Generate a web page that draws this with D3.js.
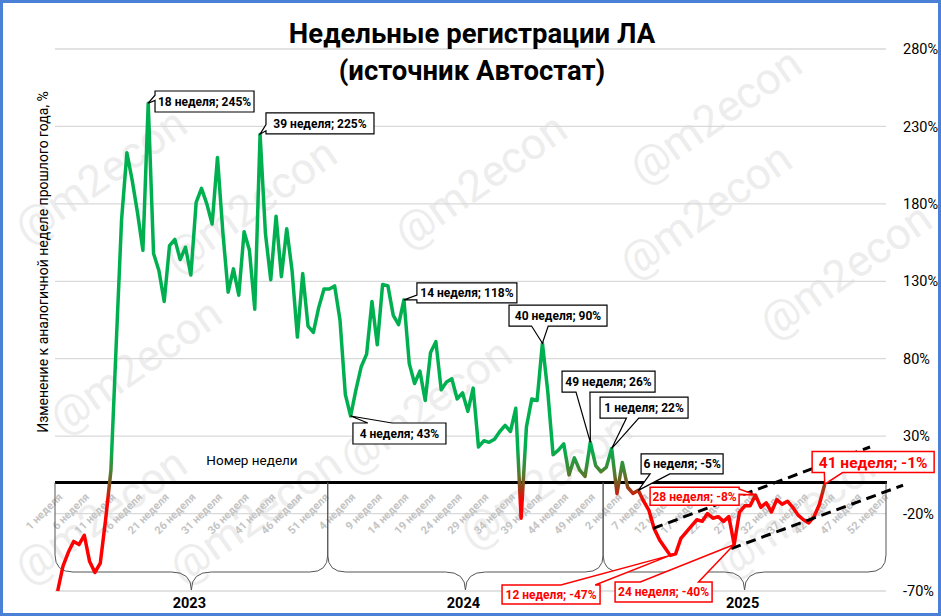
<!DOCTYPE html>
<html>
<head>
<meta charset="utf-8">
<script src="https://cdn.jsdelivr.net/npm/d3@7"></script>
<style>
  body { margin: 0; background: #fff; }
  svg { display: block; font-family: Roboto, "Noto Sans", sans-serif; }
</style>
</head>
<body>
<div id="viz"></div>
<script>
const width = 941
const height = 616
const plotLeft = 55, plotRight = 886
const plotTop = 49, plotBottom = 591

// data
const years = ["2023", "2024", "2025"]
const weeksPerYear = 52
const yTicks = [-70, -20, 30, 80, 130, 180, 230, 280]
const tickEvery = 5

const values2023 = [-70, -54, -45, -38, -40, -34, -51, -58, -52, -24,
  8, 90, 170, 213, 195, 174, 150, 245, 148, 137,
  117, 153, 157, 144, 152, 134, 181, 190, 180, 167,
  210, 162, 123, 138, 121, 162, 150, 112, 225, 161,
  131, 172, 133, 164, 137, 94, 135, 101, 97, 113,
  125, 125]
const values2024 = [127, 105, 57, 43, 60, 75, 83, 117, 89, 128,
  127, 108, 102, 118, 77, 64, 72, 53, 84, 91,
  60, 65, 67, 54, 58, 46, 61, 23, 27, 26,
  28, 33, 37, 33, 48, -23, 36, 54, 53, 90,
  59, 18, 21, 25, 5, 16, 8, 4, 26, 11,
  7, 10]
const values2025 = [22, -7, 13, -3, -7, -5, -12, -18, -30, -37,
  -42, -47, -46, -36, -32, -28, -24, -25, -20, -23,
  -22, -25, -22, -40, -19, -15, -15, -8, -16, -13,
  -19, -11, -14, -12, -16, -21, -24, -26, -22, -14,
  -1]

const callouts = [
  {year: "2023", week: 18, label: "18 неделя; 245%"},
  {year: "2023", week: 39, label: "39 неделя; 225%"},
  {year: "2024", week: 4, label: "4 неделя; 43%"},
  {year: "2024", week: 14, label: "14 неделя; 118%"},
  {year: "2024", week: 40, label: "40 неделя; 90%"},
  {year: "2024", week: 49, label: "49 неделя; 26%"},
  {year: "2025", week: 1, label: "1 неделя; 22%"},
  {year: "2025", week: 6, label: "6 неделя; -5%"},
  {year: "2025", week: 12, label: "12 неделя; -47%"},
  {year: "2025", week: 24, label: "24 неделя; -40%"},
  {year: "2025", week: 28, label: "28 неделя; -8%"},
  {year: "2025", week: 41, label: "41 неделя; -1%"}
]

// trend channel, in (week index, %) units
const trendUpper = [[111.8, -29.6], [152.5, 23]]
const trendLower = [[118, -53.3], [158.7, -1.7]]

// layout of the callout boxes (offset of box from its point)
const calloutLayout = [
  {dx: 6.8, dy: -12.2, w: 99, h: 21, edge: "left", f: [0.2, 0.45]},
  {dx: 5.9, dy: -21.2, w: 108, h: 21, edge: "left", f: [0.55, 0.85]},
  {dx: 2.3, dy: 7, w: 93, h: 21, edge: "top", f: [0.16, 0.42]},
  {dx: 13, dy: -16.9, w: 100, h: 20, edge: "left", f: [0.6, 0.85]},
  {dx: -33.4, dy: -38.2, w: 98, h: 21, edge: "bottom", f: [0.23, 0.4]},
  {dx: -28.3, dy: -71.3, w: 93, h: 21, edge: "bottom", f: [0.15, 0.3]},
  {dx: -11.6, dy: -51.5, w: 88, h: 21, edge: "bottom", f: [0.3, 0.44]},
  {dx: 2.8, dy: -36.4, w: 82, h: 20, edge: "bottom", f: [0.11, 0.35]},
  {dx: -168.2, dy: 29.6, w: 98, h: 19, edge: "top", f: [0.6, 0.95], red: true},
  {dx: -119.1, dy: 37.4, w: 97, h: 20, edge: "top", f: [0.26, 0.86], red: true},
  {dx: -105.4, dy: -7.8, w: 89, h: 18, edge: "right", f: [0.1, 0.4], red: true},
  {dx: -12.6, dy: -32.6, w: 122, h: 21, edge: "bottom", f: [0.1, 0.25], red: true, size: 15.5}
]

const watermarkSpots = [[100, 175], [250, 205], [480, 180], [715, 115], [705, 210], [845, 270],
  [135, 365], [425, 405], [545, 480], [255, 515], [800, 510], [100, 515]]

const series = []
;[values2023, values2024, values2025].forEach((vals, yi) => {
  for (let w = 0; w < weeksPerYear; w++) {
    series.push({i: yi * weeksPerYear + w, week: w + 1, v: w < vals.length ? vals[w] : null})
  }
})

const svg = d3.select("#viz").append("svg")
  .attr("width", width)
  .attr("height", height)

svg.append("rect").attr("width", width).attr("height", height).attr("fill", "#fff")

const x = d3.scaleLinear().domain([-0.5, series.length - 0.5]).range([plotLeft, plotRight])
const y = d3.scaleLinear().domain([-70, 280]).range([plotBottom, plotTop])

// watermark
svg.append("g").selectAll("text")
  .data(watermarkSpots)
  .enter().append("text")
  .attr("transform", d => "translate(" + d[0] + "," + d[1] + ") rotate(-35)")
  .attr("text-anchor", "middle")
  .attr("dy", "0.35em")
  .style("font-size", "44px")
  .style("fill", "#ededed")
  .text("@m2econ")

// gridlines
svg.append("g").selectAll("line")
  .data(yTicks)
  .enter().append("line")
  .attr("x1", plotLeft).attr("x2", plotRight)
  .attr("y1", d => y(d)).attr("y2", d => y(d))
  .attr("stroke", "#d9d9d9")
  .attr("stroke-width", 1.3)

// right axis labels
const yAxisG = svg.append("g")
  .attr("transform", "translate(" + plotRight + ",0)")
  .call(d3.axisRight(y).tickValues(yTicks).tickFormat(d => d + "%").tickSize(0).tickPadding(17))
yAxisG.select(".domain").remove()
yAxisG.selectAll("text").style("font-size", "14.5px").style("fill", "#000").style("font-family", "Roboto, sans-serif")

// x axis at zero
const xAxisG = svg.append("g")
  .attr("transform", "translate(0," + y(0) + ")")
  .call(d3.axisBottom(x)
    .tickValues(d3.range(0, series.length, tickEvery))
    .tickFormat(i => series[i].week + " неделя")
    .tickSize(0)
    .tickSizeOuter(0))
xAxisG.select(".domain").attr("stroke", "#000").attr("stroke-width", 3)
  .attr("d", "M" + plotLeft + ",0H" + (plotRight + 1))
xAxisG.selectAll("text")
  .attr("y", 0).attr("dy", 0)
  .attr("transform", "translate(5,15) rotate(-45)")
  .style("text-anchor", "end")
  .style("font-size", "11px")
  .style("font-weight", "bold")
  .style("fill", "#c4c4c4")
  .style("font-family", "Roboto, sans-serif")

// year braces
const braceTop = y(0), braceMid = 555, braceBar = 572, bracePoint = 590
const yearEdges = [-0.5, 50.7, 102.4, series.length - 0.5]
const braceG = svg.append("g")
years.forEach((yr, k) => {
  const a = x(yearEdges[k]), b = x(yearEdges[k + 1]), c = (a + b) / 2
  const p = d3.path()
  p.moveTo(a, braceTop)
  p.lineTo(a, braceMid)
  p.quadraticCurveTo(a, braceBar, a + 18, braceBar)
  p.lineTo(c - 20, braceBar)
  p.quadraticCurveTo(c, braceBar, c, bracePoint)
  p.quadraticCurveTo(c, braceBar, c + 20, braceBar)
  p.lineTo(b - 18, braceBar)
  p.quadraticCurveTo(b, braceBar, b, braceMid)
  p.lineTo(b, braceTop)
  braceG.append("path").attr("d", p.toString())
    .attr("fill", "none").attr("stroke", "#555").attr("stroke-width", 1)
  svg.append("text")
    .attr("x", c - 2).attr("y", 608)
    .attr("text-anchor", "middle")
    .style("font-size", "14.5px").style("font-weight", "bold")
    .text(yr)
})

// line with colour gradient by value
const gradStops = [{v: 22, c: "#00b050"}, {v: 6, c: "#4f7f2e"}, {v: -2, c: "#8a4a1c"}, {v: -12, c: "#ff0000"}]
const gy1 = y(gradStops[0].v), gy2 = y(gradStops[gradStops.length - 1].v)
const grad = svg.append("defs").append("linearGradient")
  .attr("id", "lineGrad")
  .attr("gradientUnits", "userSpaceOnUse")
  .attr("x1", 0).attr("x2", 0).attr("y1", gy1).attr("y2", gy2)
grad.selectAll("stop").data(gradStops).enter().append("stop")
  .attr("offset", d => (y(d.v) - gy1) / (gy2 - gy1))
  .attr("stop-color", d => d.c)

const line = d3.line()
  .defined(d => d.v != null)
  .x(d => x(d.i))
  .y(d => y(d.v))

svg.append("path")
  .datum(series)
  .attr("d", line)
  .attr("fill", "none")
  .attr("stroke", "url(#lineGrad)")
  .attr("stroke-width", 3.5)
  .attr("stroke-linejoin", "round")

// trend channel
;[trendUpper, trendLower].forEach(t => {
  svg.append("line")
    .attr("x1", x(t[0][0])).attr("y1", y(t[0][1]))
    .attr("x2", x(t[1][0])).attr("y2", y(t[1][1]))
    .attr("stroke", "#000").attr("stroke-width", 3)
    .attr("stroke-dasharray", "10,6")
})

// callouts
function calloutPath(x0, y0, w, h, edge, f, px, py) {
  const p = d3.path()
  p.moveTo(x0, y0)
  if (edge === "top") { p.lineTo(x0 + f[0] * w, y0); p.lineTo(px, py); p.lineTo(x0 + f[1] * w, y0) }
  p.lineTo(x0 + w, y0)
  if (edge === "right") { p.lineTo(x0 + w, y0 + f[0] * h); p.lineTo(px, py); p.lineTo(x0 + w, y0 + f[1] * h) }
  p.lineTo(x0 + w, y0 + h)
  if (edge === "bottom") { p.lineTo(x0 + f[1] * w, y0 + h); p.lineTo(px, py); p.lineTo(x0 + f[0] * w, y0 + h) }
  p.lineTo(x0, y0 + h)
  if (edge === "left") { p.lineTo(x0, y0 + f[1] * h); p.lineTo(px, py); p.lineTo(x0, y0 + f[0] * h) }
  p.closePath()
  return p.toString()
}

const calloutG = svg.append("g")
callouts.forEach((c, k) => {
  const lay = calloutLayout[k]
  const d = series[years.indexOf(c.year) * weeksPerYear + c.week - 1]
  const px = x(d.i), py = y(d.v)
  const bx = px + lay.dx, by = py + lay.dy
  const col = lay.red ? "#ff0000" : "#000"
  calloutG.append("path")
    .attr("d", calloutPath(bx, by, lay.w, lay.h, lay.edge, lay.f, px, py))
    .attr("fill", "#fff")
    .attr("stroke", col)
    .attr("stroke-width", lay.red ? 1.5 : 1.2)
  calloutG.append("text")
    .attr("x", bx + lay.w / 2)
    .attr("y", by + lay.h / 2)
    .attr("dy", "0.36em")
    .attr("text-anchor", "middle")
    .style("font-size", (lay.size || 12) + "px")
    .style("font-weight", "bold")
    .style("fill", col)
    .text(c.label)
})

// axis titles
svg.append("text")
  .attr("x", 252).attr("y", 465)
  .attr("text-anchor", "middle")
  .style("font-size", "13.5px")
  .text("Номер недели")

svg.append("text")
  .attr("transform", "translate(48,262) rotate(-90)")
  .attr("text-anchor", "middle")
  .style("font-size", "14px")
  .text("Изменение к аналогичной неделе прошлого года, %")

// chart title
svg.append("text")
  .attr("x", 472).attr("y", 43)
  .attr("text-anchor", "middle")
  .style("font-size", "27.5px").style("font-weight", "bold")
  .text("Недельные регистрации ЛА")
svg.append("text")
  .attr("x", 472).attr("y", 80)
  .attr("text-anchor", "middle")
  .style("font-size", "27.5px").style("font-weight", "bold")
  .text("(источник Автостат)")

// frame
svg.append("rect")
  .attr("x", 1.5).attr("y", 1.5)
  .attr("width", width - 3).attr("height", height - 3)
  .attr("fill", "none")
  .attr("stroke", "#4a80d6")
  .attr("stroke-width", 3)
</script>
</body>
</html>
